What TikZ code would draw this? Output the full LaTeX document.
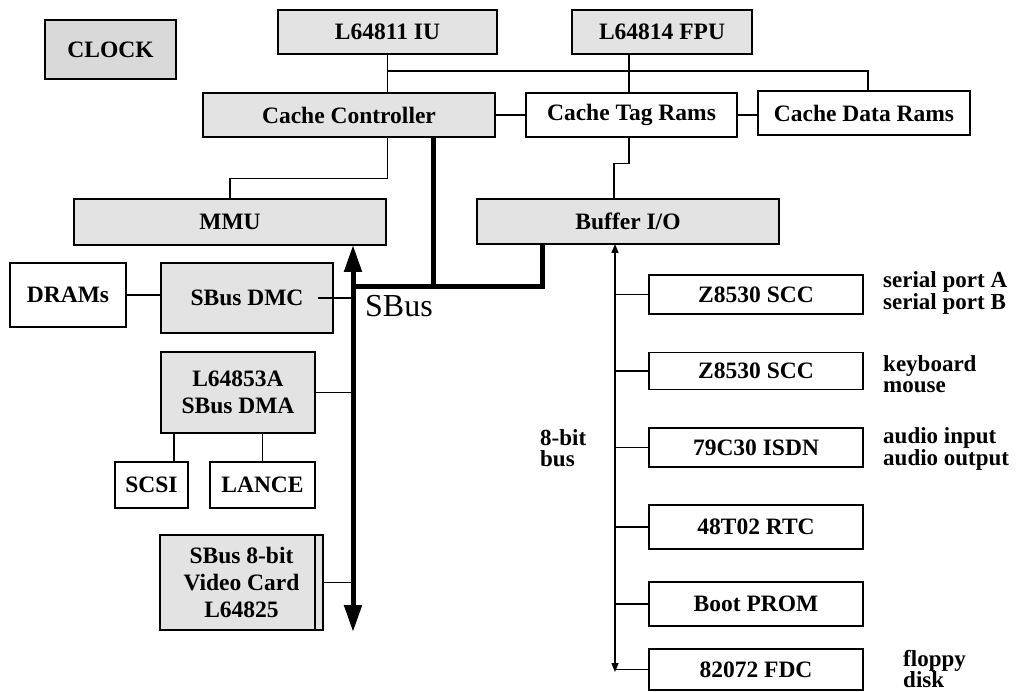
\documentclass[tikz,border=0pt]{standalone}
\usepackage{fontspec}
\setmainfont{Liberation Serif}
\usetikzlibrary{arrows.meta}
\tikzset{
  blk/.style={draw,line width=1.5pt,inner sep=0pt,align=center,font=\fontsize{23.5}{26.7}\selectfont\bfseries},
  shb/.style={blk,fill=gray!22},
  bsz/.style 2 args={minimum width=#1pt,minimum height=#2pt},
  wire/.style={line width=1.4pt},
  sbus/.style={line width=5pt},
  bus8/.style={line width=1.4pt,{Triangle[length=9pt,width=7pt]}-{Triangle[length=9pt,width=7pt]}},
  lbl/.style={anchor=west,inner sep=0pt,align=left,font=\fontsize{23}{21.5}\selectfont\bfseries}
}

\begin{document}
\begin{tikzpicture}[x=1pt,y=-1pt]
\useasboundingbox (0,0) rectangle (1033,692);
% processor side
\node[shb,fill=gray!30,bsz={131}{59}] (clock) at (110.5,49.5) {CLOCK};
\node[shb,bsz={219}{44}] (iu) at (387.5,32) {L64811 IU};
\node[shb,bsz={180}{44}] (fpu) at (662,32) {L64814 FPU};
\node[shb,bsz={292}{44}] (cc) at (349,115) {Cache Controller};
\node[blk,bsz={211}{44}] (tag) at (631.5,115) {Cache Tag Rams};
\node[blk,bsz={212}{44}] (data) at (864,113) {Cache Data Rams};
\node[shb,bsz={312}{46}] (mmu) at (230,222) {MMU};
\node[shb,bsz={302}{45}] (bufio) at (628,221.5) {Buffer I/O};
% SBus side
\node[blk,bsz={116}{64}] (drams) at (68,295) {DRAMs};
\node[shb,bsz={172}{70}] (dmc) at (247,298) {SBus DMC};
\node[shb,bsz={154}{81}] (dma) at (238,392.5) {L64853A\\SBus DMA};
\node[blk,bsz={73}{46}] (scsi) at (151.5,485) {SCSI};
\node[blk,bsz={105}{46}] (lance) at (262.5,485) {LANCE};
\node[shb,bsz={163}{95}] (video) at (241.5,582.5) {SBus 8-bit\\Video Card\\L64825};
\draw[line width=1.5pt] ([xshift=-9pt]video.north east) -- ([xshift=-9pt]video.south east);
% 8-bit bus side
\node[blk,bsz={214}{39}] (scc1) at (756,294.5) {Z8530 SCC};
\node[blk,bsz={214}{37}] (scc2) at (756,371) {Z8530 SCC};
\node[blk,bsz={214}{39}] (isdn) at (756,447.5) {79C30 ISDN};
\node[blk,bsz={214}{44}] (rtc) at (756,527) {48T02 RTC};
\node[blk,bsz={214}{44}] (prom) at (756,604) {Boot PROM};
\node[blk,bsz={214}{41}] (fdc) at (756,669.5) {82072 FDC};
\node[lbl] (sp) at (883,293) {serial port A\\serial port B};
\node[lbl] (kb) at (883,374) {keyboard\\mouse};
\node[lbl] (au) at (883,449) {audio input\\audio output};
\node[lbl] (fl) at (903,669) {floppy\\disk};
\node[lbl] (b8) at (540,448) {8-bit\\bus};
\node[anchor=west,inner sep=0pt,font=\fontsize{32}{32}\selectfont] (sbl) at (365,306) {SBus};

% cache connections
\coordinate (tl) at (387.5,71);
\coordinate (tr) at (868,71);
\draw[wire] (iu.south) -- (iu.south |- cc.north);
\draw[wire] (tl) -- (tr) -- (tr |- data.north);
\draw[wire] ([xshift=-2.5pt]tag.north) -- ([xshift=-2.5pt]tag.north |- fpu.south);
\draw[wire] (cc.east) -- (tag.west);
\draw[wire] (tag.east) -- (tag.east -| data.west);
\draw[wire] (iu.south |- cc.south) -- ++(0,41) -| (mmu.north);
\draw[wire] ([xshift=-2.5pt]tag.south) -- ++(0,26) -| ([xshift=-14pt]bufio.north);

% SBus
\coordinate (sbtop) at (353,245);
\coordinate (sbbot) at (353,632);
\coordinate (sbj) at (353,287);
\draw[sbus,{Triangle[length=27pt,width=17pt]}-{Triangle[length=27pt,width=17pt]}] (sbtop) -- (sbbot);
\draw[sbus] ([xshift=84pt]cc.south) |- (sbj);
\draw[sbus] (sbj) -| ([xshift=-86pt]bufio.south);
\draw[wire] (drams.east) -- (drams.east -| dmc.west);
\draw[wire] ([xshift=-16pt]dmc.east) -- (dmc.east -| sbj);
\draw[wire] (dma.east) -- (dma.east -| sbj);
\draw[wire] (video.east) -- (video.east -| sbj);
\draw[wire] ([xshift=-64pt]dma.south) -- ([xshift=-64pt]dma.south |- scsi.north);
\draw[wire] (lance.north) -- (lance.north |- dma.south);

% 8-bit bus
\coordinate (ebtop) at (615,244);
\coordinate (ebbot) at (615,672);
\draw[bus8] (ebtop) -- (ebbot);
\foreach \dev in {scc1,scc2,isdn,rtc,prom,fdc}
  \draw[wire] (\dev.west) -- (\dev.west -| ebtop);
\end{tikzpicture}
\end{document}
